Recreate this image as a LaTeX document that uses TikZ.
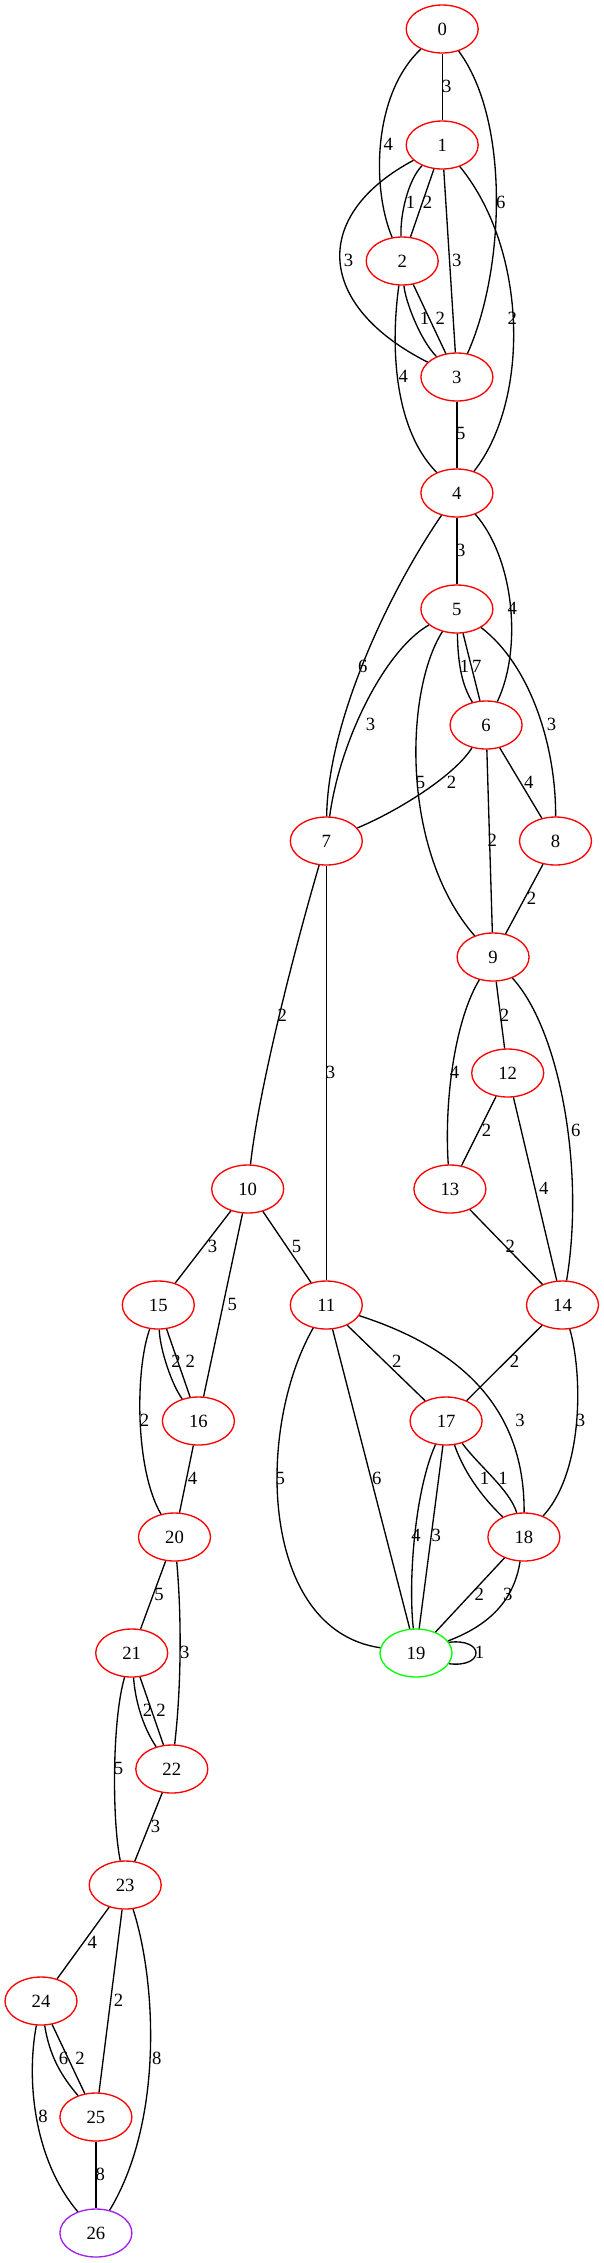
\documentclass[tikz,border=0pt]{standalone}
\usepackage{fontspec}
\setmainfont{Liberation Serif}
\usetikzlibrary{shapes.geometric}
\definecolor{gvred}{HTML}{FF0000}
\definecolor{gvgreen}{HTML}{00FF00}
\definecolor{gvpurple}{HTML}{A020F0}
\begin{document}
\begin{tikzpicture}[x=1pt,y=-1pt,
  gnode/.style={ellipse,draw=gvred,line width=1.33pt,minimum width=72pt,minimum height=48pt,inner sep=0pt,font=\fontsize{18.67}{20}\selectfont},
  gedge/.style={draw=black,line width=1.33pt},
  lbl/.style={inner sep=0pt,anchor=center,font=\fontsize{18.67}{20}\selectfont}]
\useasboundingbox (0,0) rectangle (604,2263);
% nodes
\node[gnode] (n0) at (442.2,29) {0};
\node[gnode] (n1) at (442.2,145) {1};
\node[gnode] (n2) at (402.2,261) {2};
\node[gnode] (n3) at (456.9,377) {3};
\node[gnode] (n4) at (456.9,493) {4};
\node[gnode] (n5) at (456.9,609) {5};
\node[gnode] (n6) at (486.1,725) {6};
\node[gnode] (n7) at (326.3,841) {7};
\node[gnode] (n8) at (555.5,841) {8};
\node[gnode] (n9) at (493.1,957) {9};
\node[gnode] (n12) at (507.7,1073) {12};
\node[gnode] (n10) at (247.7,1189) {10};
\node[gnode] (n13) at (449.9,1189) {13};
\node[gnode] (n15) at (158.3,1305) {15};
\node[gnode] (n11) at (326.3,1305) {11};
\node[gnode] (n14) at (562.5,1305) {14};
\node[gnode] (n16) at (198.4,1421) {16};
\node[gnode] (n17) at (446.1,1421) {17};
\node[gnode] (n20) at (174.5,1537) {20};
\node[gnode] (n18) at (523.9,1537) {18};
\node[gnode] (n21) at (131.7,1653) {21};
\node[gnode,draw=gvgreen] (n19) at (416.0,1653) {19};
\node[gnode] (n22) at (171.8,1769) {22};
\node[gnode] (n23) at (125.2,1885) {23};
\node[gnode] (n24) at (41,2001) {24};
\node[gnode] (n25) at (95.9,2117) {25};
\node[gnode,draw=gvpurple] (n26) at (95.9,2233) {26};
% edges
\path[gedge] (n0) -- (n1) node[lbl] at (446.8,86) {3};
\path[gedge] (n0) .. controls (372,95) and (372,190) .. (n2) node[lbl] at (388.3,144.3) {4};
\path[gedge] (n0) .. controls (510,120) and (505,270) .. (n3) node[lbl] at (500.8,202.3) {6};
\path[gedge] (n1) .. controls (408,180) and (400,215) .. (n2) node[lbl] at (410.6,202.3) {1};
\path[gedge] (n1) -- (n2) node[lbl] at (427.6,202.3) {2};
\path[gedge] (n1) -- (n3) node[lbl] at (456.9,260) {3};
\path[gedge] (n1) .. controls (311,215) and (315,305) .. (n3) node[lbl] at (348.6,260) {3};
\path[gedge] (n1) .. controls (528,250) and (530,400) .. (n4) node[lbl] at (512.3,318.3) {2};
\path[gedge] (n2) .. controls (405,300) and (420,340) .. (n3) node[lbl] at (424.5,318.3) {1};
\path[gedge] (n2) -- (n3) node[lbl] at (440.3,318.3) {2};
\path[gedge] (n2) .. controls (390,350) and (395,430) .. (n4) node[lbl] at (403.3,376.7) {4};
\path[gedge] (n3) -- (n4) node[lbl] at (460.7,433.3) {5};
\path[gedge] (n4) -- (n5) node[lbl] at (460.7,550) {3};
\path[gedge] (n4) .. controls (515,560) and (522,650) .. (n6) node[lbl] at (512.3,608.7) {4};
\path[gedge] (n4) .. controls (390,590) and (328,720) .. (n7) node[lbl] at (362.9,666) {6};
\path[gedge] (n5) .. controls (458,665) and (462,685) .. (n6) node[lbl] at (464.6,666) {1};
\path[gedge] (n5) -- (n6) node[lbl] at (476.9,666) {7};
\path[gedge] (n5) .. controls (385,650) and (340,740) .. (n7) node[lbl] at (370.6,724) {3};
\path[gedge] (n5) .. controls (405,690) and (400,850) .. (n9) node[lbl] at (420.6,782.7) {5};
\path[gedge] (n5) .. controls (530,665) and (556,745) .. (n8) node[lbl] at (551.6,724) {3};
\path[gedge] (n6) .. controls (455,775) and (400,810) .. (n7) node[lbl] at (451.5,782.7) {2};
\path[gedge] (n6) -- (n9) node[lbl] at (492.3,840) {2};
\path[gedge] (n6) -- (n8) node[lbl] at (528.9,782.7) {4};
\path[gedge] (n8) -- (n9) node[lbl] at (531.6,898.3) {2};
\path[gedge] (n7) .. controls (300,930) and (260,1080) .. (n10) node[lbl] at (282.4,1015) {2};
\path[gedge] (n7) -- (n11) node[lbl] at (330.5,1072.7) {3};
\path[gedge] (n9) -- (n12) node[lbl] at (504.6,1015) {2};
\path[gedge] (n9) .. controls (455,1020) and (444,1100) .. (n13) node[lbl] at (454.5,1072.7) {4};
\path[gedge] (n9) .. controls (560,1030) and (585,1170) .. (n14) node[lbl] at (575.9,1130) {6};
\path[gedge] (n12) -- (n13) node[lbl] at (486.5,1130) {2};
\path[gedge] (n12) -- (n14) node[lbl] at (543.9,1188.3) {4};
\path[gedge] (n13) -- (n14) node[lbl] at (510.4,1246) {2};
\path[gedge] (n10) -- (n15) node[lbl] at (212.6,1246) {3};
\path[gedge] (n10) -- (n16) node[lbl] at (232.3,1304.3) {5};
\path[gedge] (n10) -- (n11) node[lbl] at (296.6,1246) {5};
\path[gedge] (n15) .. controls (160,1350) and (172,1385) .. (n16) node[lbl] at (176,1361.7) {2};
\path[gedge] (n15) -- (n16) node[lbl] at (190.3,1361.7) {2};
\path[gedge] (n15) .. controls (135,1370) and (135,1470) .. (n20) node[lbl] at (144.5,1420) {2};
\path[gedge] (n16) -- (n20) node[lbl] at (192.6,1478.3) {4};
\path[gedge] (n11) -- (n17) node[lbl] at (396.8,1361.7) {2};
\path[gedge] (n11) .. controls (450,1345) and (525,1400) .. (n18) node[lbl] at (520,1420) {3};
\path[gedge] (n11) .. controls (255,1430) and (260,1630) .. (n19) node[lbl] at (280.4,1478.3) {5};
\path[gedge] (n11) -- (n19) node[lbl] at (376.7,1478.3) {6};
\path[gedge] (n14) -- (n17) node[lbl] at (514.6,1361.7) {2};
\path[gedge] (n14) .. controls (582,1370) and (585,1470) .. (n18) node[lbl] at (580.5,1420) {3};
\path[gedge] (n17) .. controls (465,1475) and (485,1500) .. (n18) node[lbl] at (484.6,1478.3) {1};
\path[gedge] (n17) .. controls (478,1465) and (510,1490) .. (n18) node[lbl] at (503.1,1478.3) {1};
\path[gedge] (n17) .. controls (415,1490) and (408,1580) .. (n19) node[lbl] at (416,1535) {4};
\path[gedge] (n17) -- (n19) node[lbl] at (436.4,1535) {3};
\path[gedge] (n18) -- (n19) node[lbl] at (479.2,1594.3) {2};
\path[gedge] (n18) .. controls (514,1600) and (490,1625) .. (n19) node[lbl] at (507.7,1594.3) {3};
\path[gedge] (n19.18) .. controls (485,1638) and (485,1668) .. (n19.-18) node[lbl] at (479.6,1652.7) {1};
\path[gedge] (n20) -- (n21) node[lbl] at (159.1,1594) {5};
\path[gedge] (n20) .. controls (182,1620) and (181,1690) .. (n22) node[lbl] at (184.9,1652.7) {3};
\path[gedge] (n21) .. controls (136,1710) and (148,1735) .. (n22) node[lbl] at (147.5,1710.7) {2};
\path[gedge] (n21) -- (n22) node[lbl] at (161,1710.7) {2};
\path[gedge] (n21) .. controls (112,1720) and (112,1820) .. (n23) node[lbl] at (118.6,1768.3) {5};
\path[gedge] (n22) -- (n23) node[lbl] at (155.6,1826) {3};
\path[gedge] (n23) -- (n24) node[lbl] at (92.4,1942.3) {4};
\path[gedge] (n23) -- (n25) node[lbl] at (118.6,2000) {2};
\path[gedge] (n23) .. controls (156,1980) and (164,2120) .. (n26) node[lbl] at (156.8,2058.3) {8};
\path[gedge] (n24) .. controls (50,2060) and (65,2080) .. (n25) node[lbl] at (63.6,2058.3) {6};
\path[gedge] (n24) -- (n25) node[lbl] at (80.1,2058.3) {2};
\path[gedge] (n24) .. controls (26,2080) and (34,2160) .. (n26) node[lbl] at (43.1,2116.7) {8};
\path[gedge] (n25) -- (n26) node[lbl] at (100.2,2174) {8};
\end{tikzpicture}
\end{document}
